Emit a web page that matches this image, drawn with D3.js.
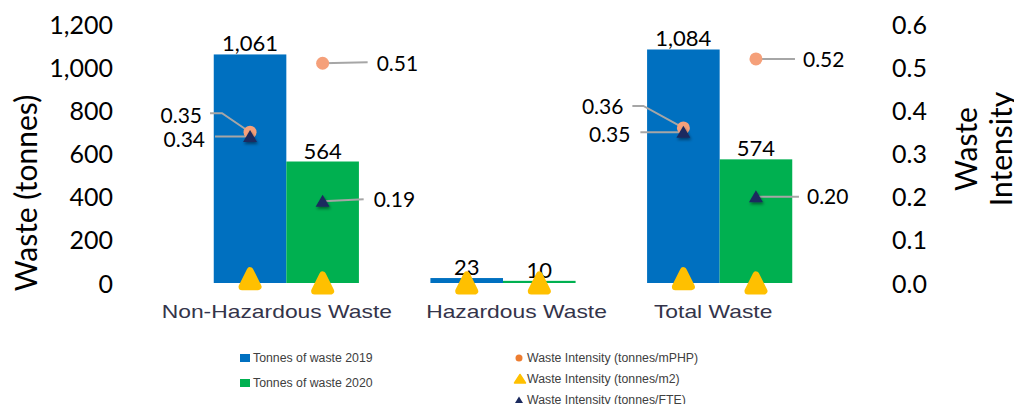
<!DOCTYPE html>
<html><head><meta charset="utf-8">
<script src="https://cdn.jsdelivr.net/npm/d3@7"></script>
<style>
html,body{margin:0;padding:0;background:#fff;}
svg{display:block;}
</style></head>
<body>
<svg id="chart" width="1014" height="404"></svg>
<script>
// ---------- data ----------
const categories = ["Non-Hazardous Waste", "Hazardous Waste", "Total Waste"];
const years = ["2019", "2020"];
const waste2019 = [1061, 23, 1084];
const waste2020 = [564, 10, 574];
const intensityMPHP2019 = [0.35, null, 0.36];
const intensityMPHP2020 = [0.51, null, 0.52];
const intensityM2_2019 = [0.01, 0.00, 0.01];
const intensityM2_2020 = [0.00, 0.00, 0.00];
const intensityFTE2019 = [0.34, null, 0.35];
const intensityFTE2020 = [0.19, null, 0.20];
const leftTicks = [0, 200, 400, 600, 800, 1000, 1200];
const rightTicks = [0, 0.1, 0.2, 0.3, 0.4, 0.5, 0.6];
const legendBars = ["Tonnes of waste 2019", "Tonnes of waste 2020"];
const legendMarkers = ["Waste Intensity (tonnes/mPHP)", "Waste Intensity (tonnes/m2)", "Waste Intensity (tonnes/FTE)"];

// ---------- styles ----------
const C = {blue: "#0070C0", green: "#00B050", orange: "#F5A07A", orangeLeg: "#ED7D31",
  yellow: "#FFC000", navy: "#1B2A5E", leader: "#A6A6A6", cat: "#34344A", legend: "#404040"};
const numFont = "Lato, 'Open Sans', sans-serif";
const txtFont = "'Liberation Sans', Arial, sans-serif";
const catLabelDx = [-9.5, 13.5, -6.5]; // label placement nudges, as in the source

const svg = d3.select("#chart");
const defs = svg.append("defs");
const f = defs.append("filter").attr("id", "shadow").attr("x", "-50%").attr("y", "-50%").attr("width", "200%").attr("height", "200%");
f.append("feDropShadow").attr("dx", 1).attr("dy", 2).attr("stdDeviation", 1.5).attr("flood-color", "#000").attr("flood-opacity", 0.45);

// ---------- scales ----------
const x0 = d3.scaleBand().domain(categories).range([178, 828]).paddingInner(0.33).paddingOuter(0.165);
const x1 = d3.scaleBand().domain(years).range([0, x0.bandwidth()]);
const yL = d3.scaleLinear().domain([0, 1200]).range([283, 24.5]);
const yR = d3.scaleLinear().domain([0, 0.6]).range([283, 24.5]);
const cx = (i, yr) => x0(categories[i]) + x1(yr) + x1.bandwidth() / 2;

// ---------- axes ----------
const axL = svg.append("g").attr("transform", "translate(113,0)")
  .call(d3.axisLeft(yL).tickValues(leftTicks).tickSize(0).tickPadding(0).tickFormat(d3.format(",")));
axL.select(".domain").remove();
axL.selectAll("text").attr("font-family", numFont).attr("font-size", 25).attr("fill", "#000").attr("dy", "0.36em");

const axR = svg.append("g").attr("transform", "translate(892,0)")
  .call(d3.axisRight(yR).tickValues(rightTicks).tickSize(0).tickPadding(0).tickFormat(d3.format(".1f")));
axR.select(".domain").remove();
axR.selectAll("text").attr("font-family", numFont).attr("font-size", 25).attr("fill", "#000").attr("dy", "0.36em");

svg.append("text").attr("transform", "translate(37,193) rotate(-90)").attr("text-anchor", "middle")
  .attr("font-family", numFont).attr("font-size", 30).attr("fill", "#000").text("Waste (tonnes)");
const rt = svg.append("text").attr("transform", "translate(977,149) rotate(-90)").attr("text-anchor", "middle")
  .attr("font-family", numFont).attr("font-size", 30).attr("fill", "#000");
rt.append("tspan").attr("x", 0).attr("y", 0).text("Waste");
rt.append("tspan").attr("x", 0).attr("y", 35).text("Intensity");

// ---------- bars ----------
const barSeries = [{yr: "2019", vals: waste2019, color: C.blue}, {yr: "2020", vals: waste2020, color: C.green}];
barSeries.forEach(s => {
  svg.append("g").selectAll("rect").data(s.vals).join("rect")
    .attr("x", (d, i) => x0(categories[i]) + x1(s.yr))
    .attr("y", d => yL(d)).attr("width", x1.bandwidth()).attr("height", d => yL(0) - yL(d))
    .attr("fill", s.color);
});
barSeries.forEach(s => {
  svg.append("g").selectAll("text").data(s.vals).join("text")
    .attr("x", (d, i) => cx(i, s.yr)).attr("y", d => yL(d) - 3)
    .attr("text-anchor", "middle").attr("font-family", numFont).attr("font-size", 22).attr("fill", "#000")
    .text(d => d3.format(",")(d));
});

// ---------- category labels (horizontally stretched like the source) ----------
svg.append("g").selectAll("text").data(categories).join("text")
  .attr("transform", (d, i) => `translate(${x0(d) + x0.bandwidth() / 2 + catLabelDx[i]},318) scale(1.27,1)`)
  .attr("text-anchor", "middle")
  .attr("font-family", txtFont).attr("font-size", 18).attr("fill", C.cat).text(d => d);

// ---------- leader lines + intensity labels ----------
// label layout per point: [dx of text anchor, dy of text centre, anchor, leader path offsets]
const labelLayout = {
  "mphp2019": [[-48, -17, "end", [[-40, -19], [-28, -19]]], null, [-60, -21, "end", [[-51, -22], [-40, -22]]]],
  "mphp2020": [[54, 0, "start", [[45, -1]]], null, [47, 0, "start", [[39, 0]]]],
  "fte2019": [[-45, 3, "end", [[-35, 0]]], null, [-53, 2, "end", [[-43, 0]]]],
  "fte2020": [[51, -2, "start", [[41, -2]]], null, [51, 0, "start", [[43, 0]]]]
};
const labelSeries = [
  {key: "mphp2019", yr: "2019", vals: intensityMPHP2019},
  {key: "mphp2020", yr: "2020", vals: intensityMPHP2020},
  {key: "fte2019", yr: "2019", vals: intensityFTE2019},
  {key: "fte2020", yr: "2020", vals: intensityFTE2020}
];
const gLead = svg.append("g"), gLab = svg.append("g");
labelSeries.forEach(s => {
  s.vals.forEach((v, i) => {
    const lay = labelLayout[s.key][i];
    if (v == null || !lay) return;
    const px = cx(i, s.yr), py = yR(v);
    const pts = lay[3].map(p => [px + p[0], py + p[1]]).concat([[px, py]]);
    gLead.append("path").attr("d", d3.line()(pts)).attr("fill", "none").attr("stroke", C.leader).attr("stroke-width", 2);
    gLab.append("text").attr("x", px + lay[0]).attr("y", py + lay[1]).attr("dy", "0.36em")
      .attr("text-anchor", lay[2]).attr("font-family", numFont).attr("font-size", 21).attr("fill", "#000")
      .text(d3.format(".2f")(v));
  });
});

// ---------- markers ----------
const yellowTri = "M0,-8L8,8L-8,8Z";
const navyTri = "M0,-6.5L7,5.5L-7,5.5Z";
[["2019", intensityM2_2019], ["2020", intensityM2_2020]].forEach(([yr, vals]) => {
  svg.append("g").selectAll("path").data(vals).join("path")
    .attr("transform", (d, i) => `translate(${cx(i, yr)},${yR(d)})`)
    .attr("d", yellowTri).attr("fill", C.yellow).attr("stroke", C.yellow)
    .attr("stroke-width", 7).attr("stroke-linejoin", "round");
});
[["2019", intensityMPHP2019], ["2020", intensityMPHP2020]].forEach(([yr, vals]) => {
  svg.append("g").selectAll("circle").data(vals.map((v, i) => ({v, i})).filter(d => d.v != null)).join("circle")
    .attr("cx", d => cx(d.i, yr)).attr("cy", d => yR(d.v)).attr("r", 6.5).attr("fill", C.orange);
});
[["2019", intensityFTE2019], ["2020", intensityFTE2020]].forEach(([yr, vals]) => {
  svg.append("g").selectAll("path").data(vals.map((v, i) => ({v, i})).filter(d => d.v != null)).join("path")
    .attr("transform", d => `translate(${cx(d.i, yr)},${yR(d.v)})`)
    .attr("d", navyTri).attr("fill", C.navy).attr("filter", "url(#shadow)");
});

// ---------- legend ----------
const lg = svg.append("g");
const barCols = [C.blue, C.green];
legendBars.forEach((t, i) => {
  const y = 358 + i * 25;
  lg.append("rect").attr("x", 240).attr("y", y - 4).attr("width", 10).attr("height", 8).attr("fill", barCols[i]);
  lg.append("text").attr("x", 253).attr("y", y).attr("dy", "0.36em").attr("font-family", txtFont)
    .attr("font-size", 12.3).attr("fill", C.legend).text(t);
});
const mRows = [358, 379, 400];
legendMarkers.forEach((t, i) => {
  const y = mRows[i];
  if (i === 0) lg.append("circle").attr("cx", 519).attr("cy", y).attr("r", 3.5).attr("fill", C.orangeLeg);
  if (i === 1) lg.append("path").attr("transform", `translate(520,${y})`).attr("d", "M0,-4.5L5.5,4L-5.5,4Z")
    .attr("fill", C.yellow).attr("stroke", C.yellow).attr("stroke-width", 1.5).attr("stroke-linejoin", "round");
  if (i === 2) lg.append("path").attr("transform", `translate(519,${y})`).attr("d", "M0,-3.5L4,3L-4,3Z").attr("fill", C.navy);
  lg.append("text").attr("x", 527).attr("y", y).attr("dy", "0.36em").attr("font-family", txtFont)
    .attr("font-size", 12.3).attr("fill", C.legend).text(t);
});
</script>
</body></html>
